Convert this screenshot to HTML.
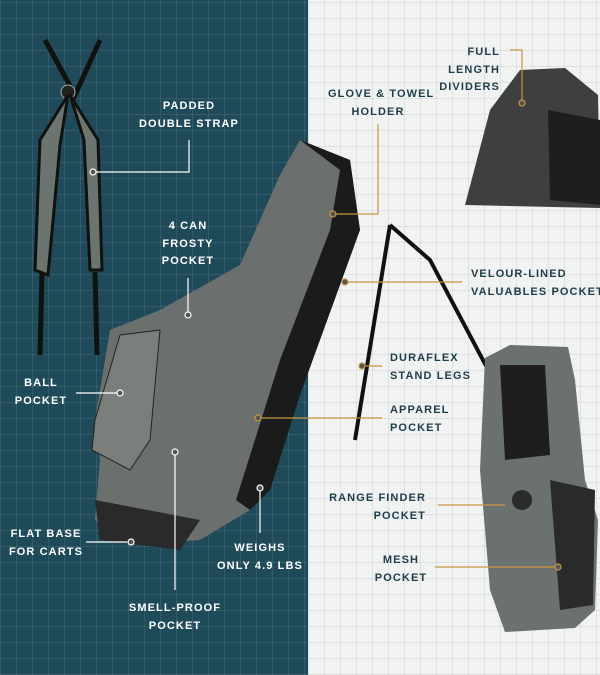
<!DOCTYPE html>
<html><head><style>
*{margin:0;padding:0}
body{width:600px;height:675px;position:relative;overflow:hidden;font-family:"Liberation Sans",sans-serif}
.bgL{position:absolute;left:0;top:0;width:308px;height:675px;background-color:#1f4a59;
background-image:repeating-linear-gradient(0deg,rgba(255,255,255,.09) 0 1px,transparent 1px 16px),repeating-linear-gradient(90deg,rgba(255,255,255,.09) 0 1px,transparent 1px 16px)}
.bgR{position:absolute;left:308px;top:0;width:292px;height:675px;background-color:#f1f2f2;
background-image:repeating-linear-gradient(0deg,rgba(0,0,0,.07) 0 1px,transparent 1px 16px),repeating-linear-gradient(90deg,rgba(0,0,0,.07) 0 1px,transparent 1px 16px)}
.t{position:absolute;font-size:11px;font-weight:bold;letter-spacing:1.1px;line-height:17.5px;text-align:center;white-space:nowrap}
.w{color:#fff}.d{color:#1d3d4a;text-align:left}
svg{position:absolute;left:0;top:0}
</style></head><body>
<div class="bgL"></div><div class="bgR"></div>
<svg width="600" height="675">
<path d="M45,40 L75,95 L100,40" stroke="#111" stroke-width="5" fill="none"/>
<circle cx="68" cy="92" r="7" fill="#222" stroke="#aaa"/>
<path d="M68,95 L40,140 L35,270 L48,275 L60,145 Z" fill="#6c746f" stroke="#111" stroke-width="3"/>
<path d="M70,95 L84,140 L90,270 L102,270 L98,140 Z" fill="#6c746f" stroke="#111" stroke-width="3"/>
<path d="M42,272 L40,355 M95,272 L97,355" stroke="#111" stroke-width="5"/>
<path d="M300,140 L350,160 L360,230 L330,300 L280,420 L250,510 L200,540 L130,545 L95,520 L100,460 L95,420 L110,330 L160,310 L240,265 L280,175 Z" fill="#6b706e"/>
<path d="M300,140 L350,160 L360,230 L300,395 L270,490 L250,510 L236,500 L280,360 L330,230 L340,170 Z" fill="#1b1b1b"/>
<path d="M120,335 L160,330 L150,440 L130,470 L92,450 L95,420 Z" fill="#7a7f7c" stroke="#222"/>
<path d="M95,500 L200,520 L180,550 L100,540 Z" fill="#2a2a2a"/>
<path d="M390,225 L355,440 M390,225 L430,260 L520,430" stroke="#111" stroke-width="4" fill="none"/>
<path d="M465,205 L490,110 L520,70 L565,68 L598,95 L600,208 Z" fill="#3d403f"/>
<path d="M548,110 L600,120 L600,205 L550,200 Z" fill="#1e1e1e"/>
<path d="M485,358 L510,345 L568,347 L575,380 L585,480 L598,520 L595,610 L575,628 L505,632 L490,590 L480,470 Z" fill="#6b716e"/>
<path d="M500,365 L545,365 L550,455 L505,460 Z" fill="#1e1e1e"/>
<path d="M550,480 L595,490 L593,605 L560,610 Z" fill="#2a2a2a"/>
<circle cx="522" cy="500" r="10" fill="#2b2b2b"/>
<g stroke="#fff" stroke-width="1.2" fill="none">
<path d="M189,140 V172 H95"/><circle cx="93" cy="172" r="3" fill="#555"/>
<path d="M188,278 V312"/><circle cx="188" cy="315" r="3" fill="#555"/>
<path d="M76,393 H117"/><circle cx="120" cy="393" r="3" fill="#555"/>
<path d="M86,542 H127"/><circle cx="131" cy="542" r="3" fill="#555"/>
<path d="M260,533 V491"/><circle cx="260" cy="488" r="3" fill="#555"/>
<path d="M175,590 V455"/><circle cx="175" cy="452" r="3" fill="#555"/>
</g>
<g stroke="#c9963f" stroke-width="1.2" fill="none">
<path d="M378,124 V214 H336"/><circle cx="333" cy="214" r="3" fill="#555"/>
<path d="M510,50 H522 V100"/><circle cx="522" cy="103" r="3" fill="#555"/>
<path d="M348,282 H462"/><circle cx="345" cy="282" r="3" fill="#555"/>
<path d="M365,366 H382"/><circle cx="362" cy="366" r="3" fill="#555"/>
<path d="M261,418 H382"/><circle cx="258" cy="418" r="3" fill="#555"/>
<path d="M438,505 H505"/>
<path d="M435,567 H555"/><circle cx="558" cy="567" r="3" fill="#555"/>
</g>
</svg>
<div class="t w" style="left:139px;top:98px;width:100px">PADDED<br>DOUBLE STRAP</div>
<div class="t w" style="left:138px;top:218px;width:100px">4 CAN<br>FROSTY<br>POCKET</div>
<div class="t w" style="left:0px;top:375px;width:82px">BALL<br>POCKET</div>
<div class="t w" style="left:0px;top:526px;width:92px">FLAT BASE<br>FOR CARTS</div>
<div class="t w" style="left:205px;top:540px;width:110px">WEIGHS<br>ONLY 4.9 LBS</div>
<div class="t w" style="left:115px;top:600px;width:120px">SMELL-PROOF<br>POCKET</div>
<div class="t d" style="left:328px;top:86px;width:100px;text-align:center">GLOVE &amp; TOWEL<br>HOLDER</div>
<div class="t d" style="left:400px;top:44px;width:100px;text-align:right">FULL<br>LENGTH<br>DIVIDERS</div>
<div class="t d" style="left:471px;top:266px">VELOUR-LINED<br>VALUABLES POCKET</div>
<div class="t d" style="left:390px;top:350px">DURAFLEX<br>STAND LEGS</div>
<div class="t d" style="left:390px;top:402px">APPAREL<br>POCKET</div>
<div class="t d" style="left:326px;top:490px;width:100px;text-align:right">RANGE FINDER<br>POCKET</div>
<div class="t d" style="left:351px;top:552px;width:100px;text-align:center">MESH<br>POCKET</div>
</body></html>
